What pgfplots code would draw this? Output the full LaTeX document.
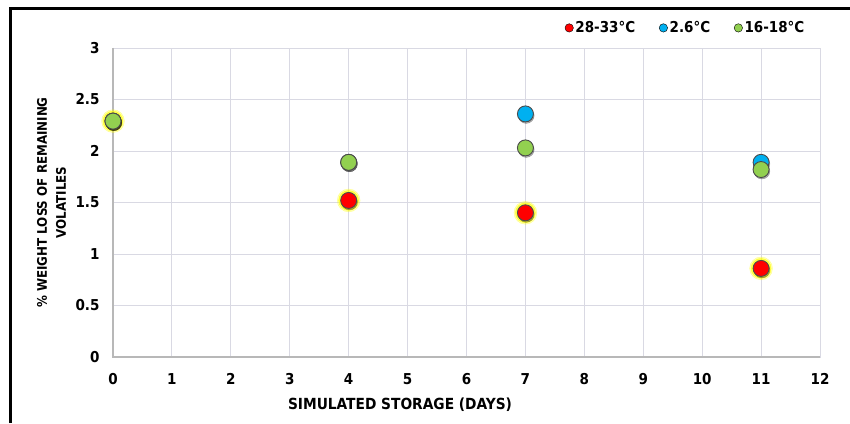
\documentclass[border=0pt]{standalone}
\usepackage{pgfplots}
\pgfplotsset{compat=1.18}
\usepackage{fontspec}
\setmainfont{DejaVu Sans Condensed}

\definecolor{gridc}{HTML}{D9D9E3}
\definecolor{axc}{HTML}{B8B8B8}
\definecolor{hotc}{HTML}{FF0000}
\definecolor{coldc}{HTML}{00B0F0}
\definecolor{midc}{HTML}{92D050}
\definecolor{edgec}{HTML}{4A4A4A}
\definecolor{glowc}{HTML}{FFFF00}

% weight loss (%) per storage day, one table per temperature
\pgfplotstableread{
day loss
0   2.29
4   1.52
7   1.40
11  0.86
}\hot
\pgfplotstableread{
day loss
0   2.29
4   1.89
7   2.36
11  1.89
}\cold
\pgfplotstableread{
day loss
0   2.29
4   1.89
7   2.03
11  1.82
}\mid

\begin{document}
\begin{tikzpicture}[x=1pt,y=1pt]
\useasboundingbox (0,0) rectangle (850,423);
\fill[white] (0,0) rectangle (850,423);
\draw[line width=3pt,black] (10,0) -- (10,414) -- (850,414);
\begin{axis}[
  at={(113pt,66pt)}, anchor=south west, scale only axis,
  width=707pt, height=309pt,
  xmin=0, xmax=12, ymin=0, ymax=3,
  xtick={0,...,12}, ytick={0,0.5,...,3},
  grid=major, major grid style={draw=gridc, line width=0.9pt},
  axis line style={draw=gridc, line width=0.9pt},
  tick style={draw=none},
  ticklabel style={font=\fontsize{15}{17}\selectfont\bfseries},
  /pgf/number format/assume math mode=true,
  yticklabel style={xshift=-10pt},
  xticklabel style={yshift=-13pt},
  xlabel={SIMULATED STORAGE (DAYS)},
  xlabel style={font=\fontsize{15.3}{17}\selectfont\bfseries,
    at={(axis description cs:0.406,-0.153)}, anchor=center},
  ylabel={\% WEIGHT LOSS OF REMAINING\\VOLATILES},
  ylabel style={font=\fontsize{13.2}{19}\selectfont\bfseries, align=center,
    at={(axis description cs:-0.087,0.5)}, anchor=center},
  legend columns=3,
  legend style={draw=none, fill=none, inner sep=0pt,
    font=\fontsize{15}{17}\selectfont\bfseries,
    at={(axis description cs:0.981,1.065)}, anchor=east,
    /tikz/every even column/.append style={column sep=22pt}},
  legend cell align=left,
  clip=false,
]
% darker left and bottom axis lines
\draw[axc, line width=1.2pt] (axis cs:0,3) -- (axis cs:0,0) -- (axis cs:12,0);

\addlegendimage{only marks, mark=*, mark size=4.2pt, mark options={fill=hotc, draw=none}}
\addlegendentry{28-33°C}
\addlegendimage{only marks, mark=*, mark size=4.2pt, mark options={fill=coldc, draw=none}}
\addlegendentry{2.6°C}
\addlegendimage{only marks, mark=*, mark size=4.2pt, mark options={fill=midc, draw=none}}
\addlegendentry{16-18°C}

% yellow halo round the 28-33 C points
\addplot[forget plot, only marks, mark=*, mark size=11.5pt, glowc, opacity=0.3,
  mark options={fill=glowc, draw=glowc}] table[x=day,y=loss] {\hot};
\addplot[forget plot, only marks, mark=*, mark size=10pt, glowc, opacity=0.6,
  mark options={fill=glowc, draw=glowc}] table[x=day,y=loss] {\hot};
% soft drop shadows under every point
\addplot[forget plot, only marks, mark=*, mark size=8pt, black, opacity=0.3,
  mark options={fill=black, draw=black, xshift=0.8pt, yshift=-1.5pt}] table[x=day,y=loss] {\hot};
\addplot[forget plot, only marks, mark=*, mark size=8pt,
  mark options={fill=hotc, draw=edgec, line width=0.9pt}] table[x=day,y=loss] {\hot};
\addplot[forget plot, only marks, mark=*, mark size=8pt, black, opacity=0.3,
  mark options={fill=black, draw=black, xshift=0.8pt, yshift=-1.5pt}] table[x=day,y=loss] {\cold};
\addplot[forget plot, only marks, mark=*, mark size=8pt,
  mark options={fill=coldc, draw=edgec, line width=0.9pt}] table[x=day,y=loss] {\cold};
\addplot[forget plot, only marks, mark=*, mark size=8pt, black, opacity=0.3,
  mark options={fill=black, draw=black, xshift=0.8pt, yshift=-1.5pt}] table[x=day,y=loss] {\mid};
\addplot[forget plot, only marks, mark=*, mark size=8pt,
  mark options={fill=midc, draw=edgec, line width=0.9pt}] table[x=day,y=loss] {\mid};
\end{axis}
\end{tikzpicture}
\end{document}
